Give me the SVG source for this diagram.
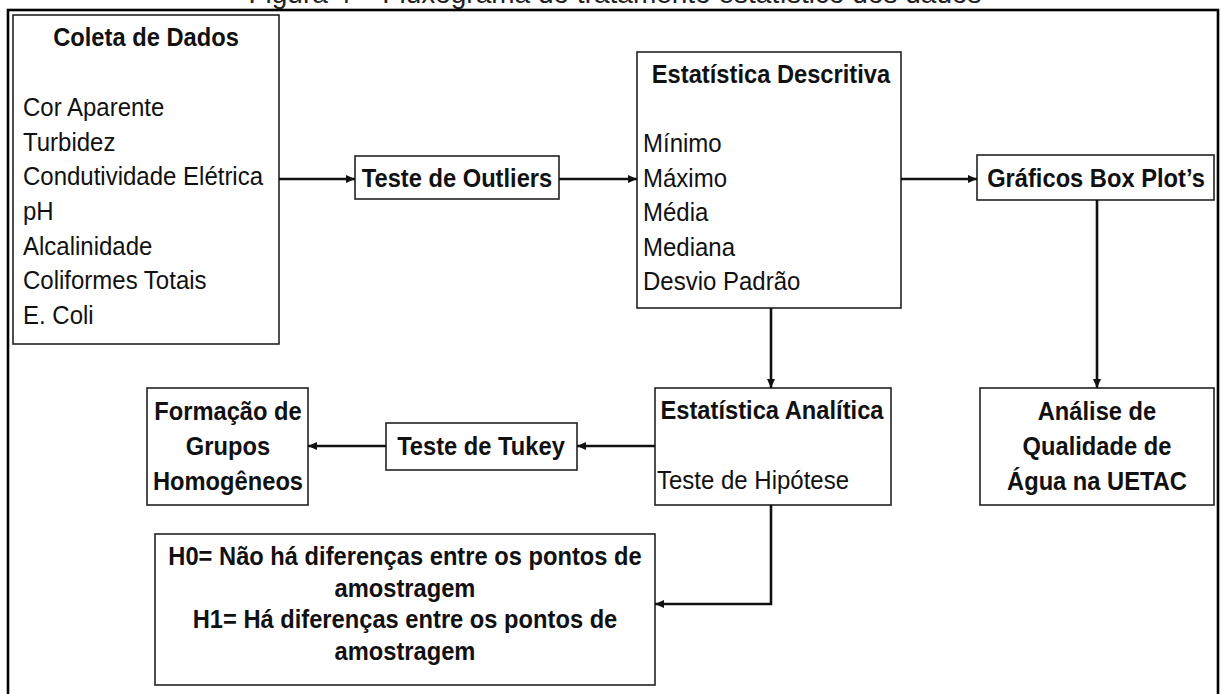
<svg xmlns="http://www.w3.org/2000/svg" width="1221" height="694" viewBox="0 0 1221 694">
<style>
.box{fill:#fff;stroke:#222;stroke-width:1.6}
.frame{fill:none;stroke:#000;stroke-width:2.6}
.t,.b{transform-box:fill-box;transform-origin:50% 100%;transform:scaleY(1.1)}
.t{font-family:"Liberation Sans",Arial,sans-serif;font-size:24px;fill:#111}
.b{font-family:"Liberation Sans",Arial,sans-serif;font-size:23.7px;font-weight:bold;fill:#111;text-anchor:middle}
.cap{font-family:"Liberation Sans",Arial,sans-serif;font-size:28px;fill:#222;text-anchor:middle}
.c{fill:none;stroke:#111;stroke-width:2.6}
</style>
<defs>
<marker id="ah" markerUnits="userSpaceOnUse" markerWidth="9" markerHeight="8" refX="9" refY="4" orient="auto">
<path d="M0,0 L9,4 L0,8 z" fill="#111"/>
</marker>
</defs>
<rect width="1221" height="694" fill="#fff"/>
<text class="cap" x="615" y="3">Figura 4 – Fluxograma do tratamento estatístico dos dados</text>
<rect class="frame" x="8" y="10" width="1210" height="700"/>

<g id="coleta">
<rect class="box" x="13" y="15" width="266" height="329"/>
<text class="b" x="146" y="46">Coleta de Dados</text>
<text class="t" x="23" y="116">Cor Aparente</text>
<text class="t" x="23" y="151">Turbidez</text>
<text class="t" x="23" y="185">Condutividade Elétrica</text>
<text class="t" x="23" y="220">pH</text>
<text class="t" x="23" y="255">Alcalinidade</text>
<text class="t" x="23" y="289">Coliformes Totais</text>
<text class="t" x="23" y="324">E. Coli</text>
</g>

<g id="outliers">
<rect class="box" x="355" y="156" width="204" height="43"/>
<text class="b" x="457" y="187">Teste de Outliers</text>
</g>

<g id="descritiva">
<rect class="box" x="637" y="52" width="264" height="256"/>
<text class="b" x="771" y="83">Estatística Descritiva</text>
<text class="t" x="643" y="152">Mínimo</text>
<text class="t" x="643" y="187">Máximo</text>
<text class="t" x="643" y="221">Média</text>
<text class="t" x="643" y="256">Mediana</text>
<text class="t" x="643" y="290">Desvio Padrão</text>
</g>

<g id="graficos">
<rect class="box" x="977" y="155" width="237" height="45"/>
<text class="b" x="1096" y="187">Gráficos Box Plot’s</text>
</g>

<g id="analise">
<rect class="box" x="980" y="388" width="234" height="117"/>
<text class="b" x="1097" y="420">Análise de</text>
<text class="b" x="1097" y="455">Qualidade de</text>
<text class="b" x="1097" y="490">Água na UETAC</text>
</g>

<g id="analitica">
<rect class="box" x="655" y="388" width="236" height="117"/>
<text class="b" x="772" y="419">Estatística Analítica</text>
<text class="t" x="657" y="489">Teste de Hipótese</text>
</g>

<g id="tukey">
<rect class="box" x="386" y="423" width="191" height="47"/>
<text class="b" x="481" y="455">Teste de Tukey</text>
</g>

<g id="formacao">
<rect class="box" x="147" y="388" width="161" height="117"/>
<text class="b" x="228" y="420">Formação de</text>
<text class="b" x="228" y="455">Grupos</text>
<text class="b" x="228" y="490">Homogêneos</text>
</g>

<g id="hipoteses">
<rect class="box" x="155" y="534" width="500" height="151"/>
<text class="b" x="405" y="565">H0= Não há diferenças entre os pontos de</text>
<text class="b" x="405" y="597">amostragem</text>
<text class="b" x="405" y="628">H1= Há diferenças entre os pontos de</text>
<text class="b" x="405" y="660">amostragem</text>
</g>

<g id="connectors">
<path class="c" d="M279,179 H355" marker-end="url(#ah)"/>
<path class="c" d="M559,179 H637" marker-end="url(#ah)"/>
<path class="c" d="M901,179 H977" marker-end="url(#ah)"/>
<path class="c" d="M1097,200 V388" marker-end="url(#ah)"/>
<path class="c" d="M771,308 V388" marker-end="url(#ah)"/>
<path class="c" d="M655,446 H577" marker-end="url(#ah)"/>
<path class="c" d="M386,446 H308" marker-end="url(#ah)"/>
<path class="c" d="M771,505 V604 H655" marker-end="url(#ah)"/>
</g>
</svg>
